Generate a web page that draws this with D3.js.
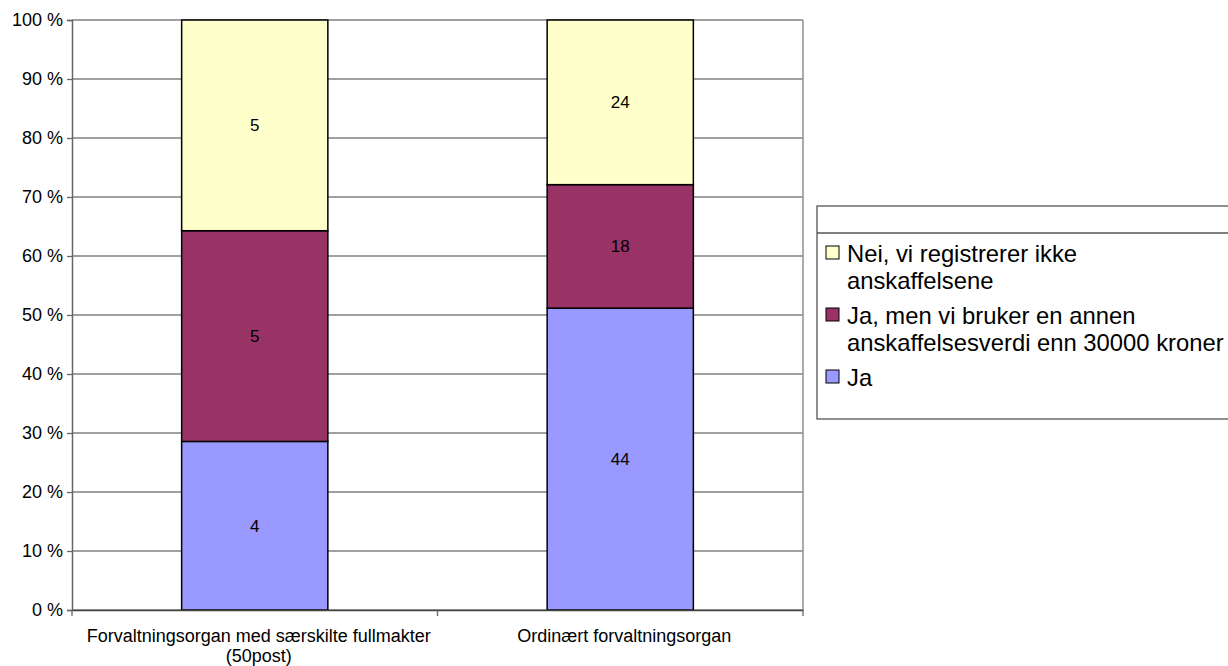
<!DOCTYPE html>
<html>
<head>
<meta charset="utf-8">
<script src="https://cdn.jsdelivr.net/npm/d3@7"></script>
<style>
  body { margin: 0; background: #fff; }
  text { font-family: "Liberation Sans", Arial, sans-serif; fill: #000; }
</style>
</head>
<body>
<div id="wrapper"></div>
<script>
const categories = ["Forvaltningsorgan med særskilte fullmakter (50post)", "Ordinært forvaltningsorgan"];
const categoryLines = [["Forvaltningsorgan med særskilte fullmakter", "(50post)"], ["Ordinært forvaltningsorgan"]];
const seriesNames = ["Ja", "Ja, men vi bruker en annen anskaffelsesverdi enn 30000 kroner", "Nei, vi registrerer ikke anskaffelsene"];
const legendLines = [["Ja"], ["Ja, men vi bruker en annen", "anskaffelsesverdi enn 30000 kroner"], ["Nei, vi registrerer ikke", "anskaffelsene"]];
const jaValues = [4, 44];
const jaMenValues = [5, 18];
const neiValues = [5, 24];
const colors = ["#9999FF", "#993366", "#FFFFCC"];
const yTicks = [0, 0.1, 0.2, 0.3, 0.4, 0.5, 0.6, 0.7, 0.8, 0.9, 1];

function buildPlot() {
    const dimension = {
        width: 1228,
        height: 666,
        margin: { top: 20, left: 72, bottom: 56, right: 425 }
    };
    const x0 = dimension.margin.left;
    const x1 = dimension.width - dimension.margin.right;
    const y0 = dimension.height - dimension.margin.bottom;
    const y1 = dimension.margin.top;

    const svg = d3.select("#wrapper").append("svg")
        .attr("width", dimension.width)
        .attr("height", dimension.height);

    // build table for stack
    const table = categories.map((c, i) => {
        const total = jaValues[i] + jaMenValues[i] + neiValues[i];
        return { cat: c, s0: jaValues[i] / total, s1: jaMenValues[i] / total, s2: neiValues[i] / total,
                 raw: [jaValues[i], jaMenValues[i], neiValues[i]] };
    });
    const stacked = d3.stack().keys(["s0", "s1", "s2"])(table);

    const xScale = d3.scaleBand()
        .domain(categories)
        .range([x0, x1])
        .paddingInner(0.6)
        .paddingOuter(0.3);
    const yScale = d3.scaleLinear()
        .domain([0, 1])
        .range([y0, y1]);

    // gridlines
    svg.append("g")
        .selectAll("line")
        .data(yTicks)
        .join("line")
        .attr("x1", x0).attr("x2", x1)
        .attr("y1", d => yScale(d)).attr("y2", d => yScale(d))
        .attr("stroke", "#808080")
        .attr("stroke-width", 1.3);

    // plot border right
    svg.append("line")
        .attr("x1", x1).attr("x2", x1)
        .attr("y1", y1).attr("y2", y0)
        .attr("stroke", "#909090")
        .attr("stroke-width", 1.5);

    // bars
    stacked.forEach((layer, k) => {
        svg.append("g")
            .selectAll("rect")
            .data(layer)
            .join("rect")
            .attr("x", d => xScale(d.data.cat))
            .attr("width", xScale.bandwidth())
            .attr("y", d => yScale(d[1]))
            .attr("height", d => yScale(d[0]) - yScale(d[1]))
            .attr("fill", colors[k])
            .attr("stroke", "#000")
            .attr("stroke-width", 1.5);

        svg.append("g")
            .selectAll("text")
            .data(layer)
            .join("text")
            .attr("x", d => xScale(d.data.cat) + xScale.bandwidth() / 2)
            .attr("y", d => yScale((d[0] + d[1]) / 2))
            .attr("dy", "0.35em")
            .attr("text-anchor", "middle")
            .style("font-size", "17px")
            .text(d => d.data.raw[k]);
    });

    // y axis
    const yAxis = d3.axisLeft(yScale)
        .tickValues(yTicks)
        .tickSize(5)
        .tickFormat(d => Math.round(d * 100) + " %");
    const gy = svg.append("g")
        .attr("transform", `translate(${x0},0)`)
        .call(yAxis);
    gy.select(".domain").attr("stroke", "#666").attr("stroke-width", 1.5);
    gy.selectAll(".tick line").attr("stroke", "#666").attr("stroke-width", 1.3);
    gy.selectAll(".tick text")
        .attr("x", -9)
        .style("font-size", "18px")
        .style("font-family", "'Liberation Sans', Arial, sans-serif")
        .attr("fill", "#000");

    // x axis
    const xAxis = d3.axisBottom(xScale).tickSize(0).tickFormat("");
    const gx = svg.append("g")
        .attr("transform", `translate(0,${y0})`)
        .call(xAxis);
    gx.select(".domain").attr("stroke", "#444").attr("stroke-width", 1.5);

    // category boundary ticks
    const bounds = [x0].concat(categories.map(c => xScale(c) + xScale.bandwidth() / 2 + xScale.step() / 2));
    svg.append("g")
        .selectAll("line")
        .data(bounds)
        .join("line")
        .attr("x1", d => d).attr("x2", d => d)
        .attr("y1", y0).attr("y2", y0 + 6)
        .attr("stroke", "#666")
        .attr("stroke-width", 1.3);

    // category labels
    categories.forEach((c, i) => {
        const t = svg.append("text")
            .attr("x", xScale(c) + xScale.bandwidth() / 2)
            .attr("y", y0 + 32)
            .attr("text-anchor", "middle")
            .style("font-size", "18px");
        categoryLines[i].forEach((line, j) => {
            t.append("tspan")
                .attr("x", xScale(c) + xScale.bandwidth() / 2 + 4)
                .attr("dy", j === 0 ? 0 : 20)
                .text(line);
        });
    });

    // legend
    const legend = svg.append("g").attr("transform", "translate(817,206)");
    legend.append("rect")
        .attr("x", 0).attr("y", 0)
        .attr("width", 430).attr("height", 213)
        .attr("fill", "#fff")
        .attr("stroke", "#555")
        .attr("stroke-width", 1.3);
    legend.append("line")
        .attr("x1", 0).attr("x2", 430)
        .attr("y1", 27).attr("y2", 27)
        .attr("stroke", "#555")
        .attr("stroke-width", 1.3);

    const order = [2, 1, 0];
    const itemY = [47, 109, 171];
    order.forEach((k, i) => {
        const g = legend.append("g").attr("transform", `translate(0,${itemY[i]})`);
        g.append("rect")
            .attr("x", 9).attr("y", -7)
            .attr("width", 13).attr("height", 13)
            .attr("fill", colors[k])
            .attr("stroke", "#000")
            .attr("stroke-width", 1);
        const t = g.append("text")
            .attr("x", 30)
            .attr("y", 0)
            .style("font-size", "23.8px");
        legendLines[k].forEach((line, j) => {
            t.append("tspan")
                .attr("x", 30)
                .attr("dy", j === 0 ? "0.36em" : 27)
                .text(line);
        });
    });
}

buildPlot();
</script>
</body>
</html>
